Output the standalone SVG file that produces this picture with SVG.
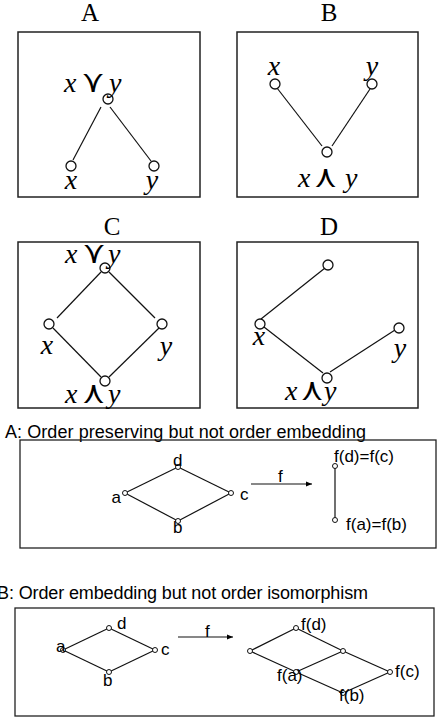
<svg xmlns="http://www.w3.org/2000/svg" width="437" height="719" viewBox="0 0 437 719">
<defs>
<style>
.box{fill:none;stroke:#222;stroke-width:1.5}
.ln{stroke:#111;stroke-width:1.2;fill:none}
.big{fill:#fff;stroke:#111;stroke-width:1.3}
.sm{fill:#fff;stroke:#111;stroke-width:1}
.ttl{font-family:"Liberation Serif","Times New Roman",serif;font-size:25px;fill:#000;text-anchor:middle}
.mi{font-family:"Liberation Serif","Times New Roman",serif;font-style:italic;font-size:28px;fill:#000}
.op{font-family:"DejaVu Serif","DejaVu Sans",serif;font-size:31px;fill:#000;text-anchor:middle}
.sf{font-family:"Liberation Sans",Arial,sans-serif;font-size:17px;fill:#000}
.hd{font-family:"Liberation Sans",Arial,sans-serif;font-size:18px;fill:#000}
</style>
<marker id="ah" viewBox="0 0 10 10" refX="10" refY="5" markerWidth="7" markerHeight="6" orient="auto" markerUnits="userSpaceOnUse">
<path d="M0,1 L10,5 L0,9 z" fill="#000"/>
</marker>
</defs>
<rect width="437" height="719" fill="#fff"/>

<g id="panelA">
<rect class="box" x="18" y="32" width="182" height="165"/>
<text class="ttl" x="90" y="21">A</text>
<g id="A-edges">
<line class="ln" x1="101" y1="107" x2="73" y2="160"/>
<line class="ln" x1="110" y1="107" x2="151" y2="161"/>
</g>
<g id="A-join"><circle class="big" cx="108" cy="99" r="5"/>
<text class="mi" x="64" y="92">x</text><text class="op" x="93" y="92">⋎</text><text class="mi" x="109" y="92">y</text></g>
<g id="A-x"><circle class="big" cx="71" cy="166" r="5"/><text class="mi" x="71" y="189" text-anchor="middle">x</text></g>
<g id="A-y"><circle class="big" cx="154" cy="166" r="5"/><text class="mi" x="152" y="189" text-anchor="middle">y</text></g>
</g>

<g id="panelB">
<rect class="box" x="237" y="32" width="181" height="165"/>
<text class="ttl" x="329" y="21">B</text>
<g id="B-edges">
<line class="ln" x1="277" y1="88" x2="322" y2="146"/>
<line class="ln" x1="370" y1="89" x2="332" y2="146"/>
</g>
<g id="B-x"><circle class="big" cx="275" cy="84" r="5"/><text class="mi" x="274" y="75" text-anchor="middle">x</text></g>
<g id="B-y"><circle class="big" cx="372" cy="84" r="5"/><text class="mi" x="372" y="75" text-anchor="middle">y</text></g>
<g id="B-meet"><circle class="big" cx="327" cy="152" r="5"/>
<text class="mi" x="298" y="187">x</text><text class="op" x="325.5" y="187">⋏</text><text class="mi" x="345" y="187">y</text></g>
</g>

<g id="panelC">
<rect class="box" x="18" y="242" width="182" height="166"/>
<text class="ttl" x="112" y="235">C</text>
<g id="C-edges">
<line class="ln" x1="101" y1="272" x2="57" y2="318"/>
<line class="ln" x1="109" y1="272" x2="155" y2="318"/>
<line class="ln" x1="53" y1="328" x2="101" y2="377"/>
<line class="ln" x1="159" y1="328" x2="109" y2="377"/>
</g>
<g id="C-join"><circle class="big" cx="105" cy="268" r="5"/>
<text class="mi" x="65" y="263">x</text><text class="op" x="94" y="263">⋎</text><text class="mi" x="108" y="263">y</text></g>
<g id="C-x"><circle class="big" cx="49" cy="324" r="5"/><text class="mi" x="47" y="354" text-anchor="middle">x</text></g>
<g id="C-y"><circle class="big" cx="162" cy="324" r="5"/><text class="mi" x="166" y="355" text-anchor="middle">y</text></g>
<g id="C-meet"><circle class="big" cx="105" cy="381" r="5"/>
<text class="mi" x="65" y="403">x</text><text class="op" x="93.5" y="403">⋏</text><text class="mi" x="108" y="403">y</text></g>
</g>

<g id="panelD">
<rect class="box" x="237" y="242" width="181" height="166"/>
<text class="ttl" x="329" y="235">D</text>
<g id="D-edges">
<line class="ln" x1="325" y1="268" x2="261" y2="319"/>
<line class="ln" x1="264" y1="327" x2="323" y2="373"/>
<line class="ln" x1="330" y1="372" x2="395" y2="330"/>
</g>
<g id="D-top"><circle class="big" cx="328" cy="265" r="5"/></g>
<g id="D-x"><circle class="big" cx="260" cy="324" r="5"/><text class="mi" x="259" y="345" text-anchor="middle">x</text></g>
<g id="D-y"><circle class="big" cx="399" cy="328" r="5"/><text class="mi" x="400" y="357" text-anchor="middle">y</text></g>
<g id="D-meet"><circle class="big" cx="327" cy="378" r="5"/>
<text class="mi" x="285" y="400">x</text><text class="op" x="312" y="400">⋏</text><text class="mi" x="324" y="400">y</text></g>
</g>

<g id="sectionA">
<text class="hd" x="5" y="438" textLength="361">A: Order preserving but not order embedding</text>
<rect class="box" x="20" y="440" width="416" height="108" style="stroke-width:1.3"/>
<g id="SA-connectors">
<line class="ln" x1="125" y1="493" x2="178" y2="467"/>
<line class="ln" x1="125" y1="493" x2="178" y2="521"/>
<line class="ln" x1="178" y1="467" x2="231" y2="493"/>
<line class="ln" x1="178" y1="521" x2="231" y2="493"/>
<line class="ln" x1="335" y1="466" x2="335" y2="520"/>
<line class="ln" x1="251" y1="484" x2="312" y2="484" marker-end="url(#ah)"/>
<text class="sf" x="278" y="482">f</text>
</g>
<g id="SA-a"><circle class="sm" cx="125" cy="493" r="2.5"/><text class="sf" x="121" y="503" text-anchor="end">a</text></g>
<g id="SA-d"><circle class="sm" cx="178" cy="467" r="2.5"/><text class="sf" x="173" y="466">d</text></g>
<g id="SA-b"><circle class="sm" cx="178" cy="521" r="2.5"/><text class="sf" x="173" y="533">b</text></g>
<g id="SA-c"><circle class="sm" cx="231" cy="493" r="2.5"/><text class="sf" x="240" y="500">c</text></g>
<g id="SA-fd"><circle class="sm" cx="335" cy="466" r="2.5"/><text class="sf" x="334" y="462">f(d)=f(c)</text></g>
<g id="SA-fa"><circle class="sm" cx="335" cy="520" r="2.5"/><text class="sf" x="346" y="530">f(a)=f(b)</text></g>
</g>

<g id="sectionB">
<text class="hd" x="-3" y="599" textLength="371">B: Order embedding but not order isomorphism</text>
<rect class="box" x="15" y="608" width="419" height="108" style="stroke-width:1.3"/>
<g id="SB-connectors">
<line class="ln" x1="63" y1="650" x2="109" y2="628"/>
<line class="ln" x1="63" y1="650" x2="109" y2="672"/>
<line class="ln" x1="109" y1="628" x2="155" y2="650"/>
<line class="ln" x1="109" y1="672" x2="155" y2="650"/>
<line class="ln" x1="178" y1="637" x2="233" y2="637" marker-end="url(#ah)"/>
<text class="sf" x="205" y="637">f</text>
<line class="ln" x1="250" y1="651" x2="296" y2="628"/>
<line class="ln" x1="296" y1="628" x2="343" y2="651"/>
<line class="ln" x1="343" y1="651" x2="390" y2="672"/>
<line class="ln" x1="250" y1="651" x2="296" y2="672"/>
<line class="ln" x1="296" y1="672" x2="343" y2="693"/>
<line class="ln" x1="343" y1="693" x2="390" y2="672"/>
<line class="ln" x1="296" y1="672" x2="343" y2="651"/>
</g>
<g id="SB-a"><circle class="sm" cx="63" cy="650" r="2.5"/><text class="sf" x="56" y="652">a</text></g>
<g id="SB-d"><circle class="sm" cx="109" cy="628" r="2.5"/><text class="sf" x="117" y="629">d</text></g>
<g id="SB-c"><circle class="sm" cx="155" cy="650" r="2.5"/><text class="sf" x="161" y="655">c</text></g>
<g id="SB-b"><circle class="sm" cx="109" cy="672" r="2.5"/><text class="sf" x="103" y="686">b</text></g>
<g id="SB-left"><circle class="sm" cx="250" cy="651" r="2.5"/></g>
<g id="SB-fd"><circle class="sm" cx="296" cy="628" r="2.5"/><text class="sf" x="301" y="630">f(d)</text></g>
<g id="SB-mid"><circle class="sm" cx="343" cy="651" r="2.5"/></g>
<g id="SB-fa"><circle class="sm" cx="296" cy="672" r="2.5"/><text class="sf" x="277" y="681">f(a)</text></g>
<g id="SB-fc"><circle class="sm" cx="390" cy="672" r="2.5"/><text class="sf" x="395" y="677">f(c)</text></g>
<g id="SB-fb"><circle class="sm" cx="343" cy="693" r="2.5"/><text class="sf" x="339" y="701">f(b)</text></g>
</g>
</svg>
